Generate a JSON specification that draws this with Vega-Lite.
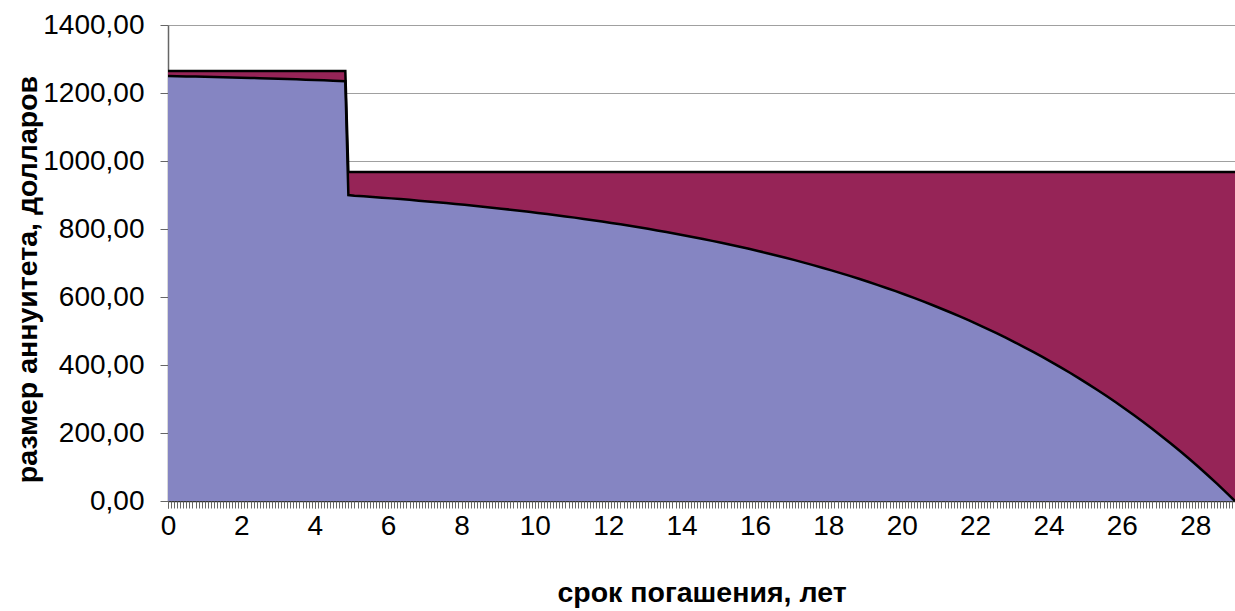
{
  "$schema": "https://vega.github.io/schema/vega-lite/v6.json",
  "autosize": {"type": "none"},
  "padding": {"left": 168, "top": 25, "right": 0, "bottom": 110},
  "width": 1067,
  "height": 476,
  "background": "white",
  "config": {"view": {"stroke": null}, "font": "Liberation Sans"},
  "data": {"values": [
    {"m":0,"payment":1264.44,"interest":1250.00},
    {"m":3,"payment":1264.44,"interest":1249.45},
    {"m":6,"payment":1264.44,"interest":1248.88},
    {"m":9,"payment":1264.44,"interest":1248.29},
    {"m":12,"payment":1264.44,"interest":1247.68},
    {"m":15,"payment":1264.44,"interest":1247.04},
    {"m":18,"payment":1264.44,"interest":1246.38},
    {"m":21,"payment":1264.44,"interest":1245.70},
    {"m":24,"payment":1264.44,"interest":1244.98},
    {"m":27,"payment":1264.44,"interest":1244.25},
    {"m":30,"payment":1264.44,"interest":1243.48},
    {"m":33,"payment":1264.44,"interest":1242.68},
    {"m":36,"payment":1264.44,"interest":1241.86},
    {"m":39,"payment":1264.44,"interest":1241.00},
    {"m":42,"payment":1264.44,"interest":1240.11},
    {"m":45,"payment":1264.44,"interest":1239.19},
    {"m":48,"payment":1264.44,"interest":1238.23},
    {"m":51,"payment":1264.44,"interest":1237.23},
    {"m":54,"payment":1264.44,"interest":1236.20},
    {"m":58,"payment":1264.44,"interest":1234.77},
    {"m":59,"payment":967.5,"interest":900.00},
    {"m":61,"payment":967.5,"interest":898.12},
    {"m":64,"payment":967.5,"interest":896.19},
    {"m":67,"payment":967.5,"interest":894.21},
    {"m":70,"payment":967.5,"interest":892.17},
    {"m":73,"payment":967.5,"interest":890.07},
    {"m":76,"payment":967.5,"interest":887.92},
    {"m":79,"payment":967.5,"interest":885.70},
    {"m":82,"payment":967.5,"interest":883.42},
    {"m":85,"payment":967.5,"interest":881.08},
    {"m":88,"payment":967.5,"interest":878.68},
    {"m":91,"payment":967.5,"interest":876.21},
    {"m":94,"payment":967.5,"interest":873.67},
    {"m":97,"payment":967.5,"interest":871.05},
    {"m":100,"payment":967.5,"interest":868.37},
    {"m":103,"payment":967.5,"interest":865.61},
    {"m":106,"payment":967.5,"interest":862.78},
    {"m":109,"payment":967.5,"interest":859.86},
    {"m":112,"payment":967.5,"interest":856.87},
    {"m":115,"payment":967.5,"interest":853.79},
    {"m":118,"payment":967.5,"interest":850.62},
    {"m":121,"payment":967.5,"interest":847.37},
    {"m":124,"payment":967.5,"interest":844.03},
    {"m":127,"payment":967.5,"interest":840.59},
    {"m":130,"payment":967.5,"interest":837.06},
    {"m":133,"payment":967.5,"interest":833.43},
    {"m":136,"payment":967.5,"interest":829.70},
    {"m":139,"payment":967.5,"interest":825.86},
    {"m":142,"payment":967.5,"interest":821.92},
    {"m":145,"payment":967.5,"interest":817.87},
    {"m":148,"payment":967.5,"interest":813.70},
    {"m":151,"payment":967.5,"interest":809.42},
    {"m":154,"payment":967.5,"interest":805.03},
    {"m":157,"payment":967.5,"interest":800.50},
    {"m":160,"payment":967.5,"interest":795.86},
    {"m":163,"payment":967.5,"interest":791.08},
    {"m":166,"payment":967.5,"interest":786.17},
    {"m":169,"payment":967.5,"interest":781.12},
    {"m":172,"payment":967.5,"interest":775.94},
    {"m":175,"payment":967.5,"interest":770.61},
    {"m":178,"payment":967.5,"interest":765.13},
    {"m":181,"payment":967.5,"interest":759.49},
    {"m":184,"payment":967.5,"interest":753.70},
    {"m":187,"payment":967.5,"interest":747.75},
    {"m":190,"payment":967.5,"interest":741.64},
    {"m":193,"payment":967.5,"interest":735.35},
    {"m":196,"payment":967.5,"interest":728.89},
    {"m":199,"payment":967.5,"interest":722.25},
    {"m":202,"payment":967.5,"interest":715.43},
    {"m":205,"payment":967.5,"interest":708.41},
    {"m":208,"payment":967.5,"interest":701.20},
    {"m":211,"payment":967.5,"interest":693.79},
    {"m":214,"payment":967.5,"interest":686.17},
    {"m":217,"payment":967.5,"interest":678.34},
    {"m":220,"payment":967.5,"interest":670.30},
    {"m":223,"payment":967.5,"interest":662.03},
    {"m":226,"payment":967.5,"interest":653.52},
    {"m":229,"payment":967.5,"interest":644.79},
    {"m":232,"payment":967.5,"interest":635.81},
    {"m":235,"payment":967.5,"interest":626.57},
    {"m":238,"payment":967.5,"interest":617.09},
    {"m":241,"payment":967.5,"interest":607.33},
    {"m":244,"payment":967.5,"interest":597.31},
    {"m":247,"payment":967.5,"interest":587.01},
    {"m":250,"payment":967.5,"interest":576.42},
    {"m":253,"payment":967.5,"interest":565.54},
    {"m":256,"payment":967.5,"interest":554.35},
    {"m":259,"payment":967.5,"interest":542.85},
    {"m":262,"payment":967.5,"interest":531.03},
    {"m":265,"payment":967.5,"interest":518.89},
    {"m":268,"payment":967.5,"interest":506.40},
    {"m":271,"payment":967.5,"interest":493.57},
    {"m":274,"payment":967.5,"interest":480.38},
    {"m":277,"payment":967.5,"interest":466.82},
    {"m":280,"payment":967.5,"interest":452.89},
    {"m":283,"payment":967.5,"interest":438.57},
    {"m":286,"payment":967.5,"interest":423.85},
    {"m":289,"payment":967.5,"interest":408.72},
    {"m":292,"payment":967.5,"interest":393.17},
    {"m":295,"payment":967.5,"interest":377.18},
    {"m":298,"payment":967.5,"interest":360.75},
    {"m":301,"payment":967.5,"interest":343.87},
    {"m":304,"payment":967.5,"interest":326.51},
    {"m":307,"payment":967.5,"interest":308.67},
    {"m":310,"payment":967.5,"interest":290.34},
    {"m":313,"payment":967.5,"interest":271.49},
    {"m":316,"payment":967.5,"interest":252.12},
    {"m":319,"payment":967.5,"interest":232.21},
    {"m":322,"payment":967.5,"interest":211.75},
    {"m":325,"payment":967.5,"interest":190.72},
    {"m":328,"payment":967.5,"interest":169.10},
    {"m":331,"payment":967.5,"interest":146.88},
    {"m":334,"payment":967.5,"interest":124.04},
    {"m":337,"payment":967.5,"interest":100.57},
    {"m":340,"payment":967.5,"interest":76.44},
    {"m":343,"payment":967.5,"interest":51.65},
    {"m":346,"payment":967.5,"interest":26.16},
    {"m":349,"payment":967.5,"interest":0.00}
  ]},
  "resolve": {"axis": {"x": "independent"}},
  "layer": [
    {
      "mark": {"type": "area", "color": "#962457", "opacity": 1},
      "encoding": {
        "x": {
          "field": "m", "type": "quantitative",
          "scale": {"domain": [0, 349], "nice": false, "zero": false},
          "axis": {
            "orient": "bottom",
            "title": "срок погашения, лет",
            "titleFont": "Liberation Sans", "titleFontSize": 28.5, "titleFontWeight": "bold", "titleColor": "black",
            "titleBaseline": "alphabetic", "titleY": 100,
            "values": [0,24,48,72,96,120,144,168,192,216,240,264,288,312,336],
            "labelExpr": "format(datum.value / 12, 'd')",
            "labelOverlap": false, "labelFlush": false,
            "labelFont": "Liberation Sans", "labelFontSize": 28, "labelColor": "black", "labelPadding": 4,
            "ticks": true, "tickSize": 7, "tickColor": "#555555", "tickWidth": 1,
            "domainColor": "#333333", "domainWidth": 1.5,
            "grid": false
          }
        },
        "y": {
          "field": "payment", "type": "quantitative",
          "scale": {"domain": [0, 1400], "nice": false},
          "axis": {
            "title": "размер аннуитета, долларов",
            "titleFont": "Liberation Sans", "titleFontSize": 28.5, "titleFontWeight": "bold", "titleColor": "black",
            "titleBaseline": "alphabetic", "titleX": -132, "titleY": 254,
            "values": [0, 200, 400, 600, 800, 1000, 1200, 1400],
            "labelExpr": "replace(format(datum.value, '.2f'), '.', ',')",
            "labelFont": "Liberation Sans", "labelFontSize": 28, "labelColor": "black", "labelPadding": 16,
            "tickSize": 8, "tickColor": "#666666",
            "domainColor": "#666666", "domainWidth": 1.5,
            "grid": true, "gridColor": "#a0a0a0", "gridWidth": 1
          }
        }
      }
    },
    {
      "mark": {"type": "area", "color": "#8585C2", "opacity": 1},
      "encoding": {
        "x": {"field": "m", "type": "quantitative", "axis": null},
        "y": {"field": "interest", "type": "quantitative"}
      }
    },
    {
      "mark": {"type": "line", "color": "black", "strokeWidth": 2.5},
      "encoding": {
        "x": {"field": "m", "type": "quantitative", "axis": null},
        "y": {"field": "payment", "type": "quantitative"}
      }
    },
    {
      "mark": {"type": "line", "color": "black", "strokeWidth": 2.5},
      "encoding": {
        "x": {
          "field": "m", "type": "quantitative",
          "axis": {
            "orient": "bottom", "title": null, "labels": false, "domain": false, "grid": false,
            "values": [0,1,2,3,4,5,6,7,8,9,10,11,12,13,14,15,16,17,18,19,20,21,22,23,24,25,26,27,28,29,30,31,32,33,34,35,36,37,38,39,40,41,42,43,44,45,46,47,48,49,50,51,52,53,54,55,56,57,58,59,60,61,62,63,64,65,66,67,68,69,70,71,72,73,74,75,76,77,78,79,80,81,82,83,84,85,86,87,88,89,90,91,92,93,94,95,96,97,98,99,100,101,102,103,104,105,106,107,108,109,110,111,112,113,114,115,116,117,118,119,120,121,122,123,124,125,126,127,128,129,130,131,132,133,134,135,136,137,138,139,140,141,142,143,144,145,146,147,148,149,150,151,152,153,154,155,156,157,158,159,160,161,162,163,164,165,166,167,168,169,170,171,172,173,174,175,176,177,178,179,180,181,182,183,184,185,186,187,188,189,190,191,192,193,194,195,196,197,198,199,200,201,202,203,204,205,206,207,208,209,210,211,212,213,214,215,216,217,218,219,220,221,222,223,224,225,226,227,228,229,230,231,232,233,234,235,236,237,238,239,240,241,242,243,244,245,246,247,248,249,250,251,252,253,254,255,256,257,258,259,260,261,262,263,264,265,266,267,268,269,270,271,272,273,274,275,276,277,278,279,280,281,282,283,284,285,286,287,288,289,290,291,292,293,294,295,296,297,298,299,300,301,302,303,304,305,306,307,308,309,310,311,312,313,314,315,316,317,318,319,320,321,322,323,324,325,326,327,328,329,330,331,332,333,334,335,336,337,338,339,340,341,342,343,344,345,346,347,348,349],
            "ticks": true, "tickSize": 7, "tickColor": "#666666", "tickWidth": 1, "offset": 0
          }
        },
        "y": {"field": "interest", "type": "quantitative"}
      }
    }
  ]
}
